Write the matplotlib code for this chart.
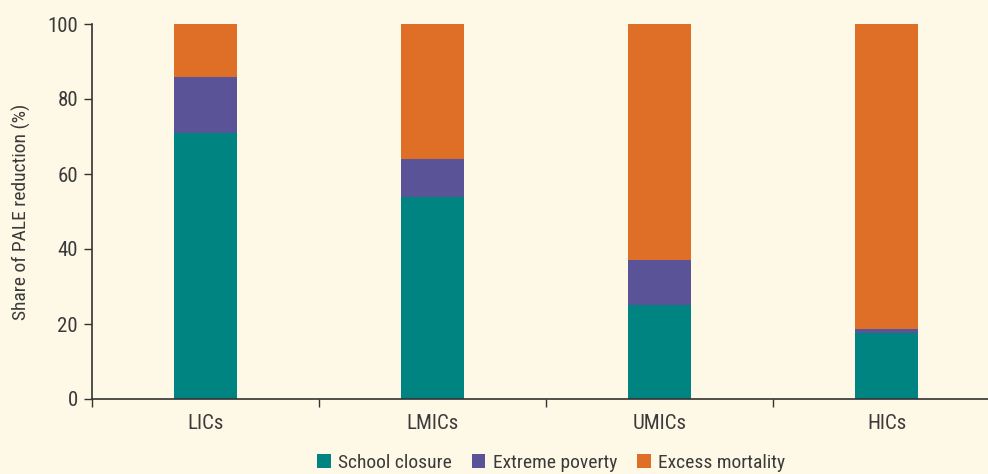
import matplotlib
matplotlib.use("Agg")
import matplotlib.pyplot as plt
from matplotlib import font_manager
import numpy as np

categories = ["LICs", "LMICs", "UMICs", "HICs"]
school_closure = [71, 54, 25, 17.6]
extreme_poverty = [15, 10, 12, 1.1]
excess_mortality = [100 - a - b for a, b in zip(school_closure, extreme_poverty)]
series_names = ["School closure", "Extreme poverty", "Excess mortality"]
colors = ["#008481", "#5a5398", "#df6e26"]
yticks = [0, 20, 40, 60, 80, 100]

names = {f.name for f in font_manager.fontManager.ttflist}
fam = "Roboto Condensed" if "Roboto Condensed" in names else "Roboto"
plt.rcParams["font.family"] = [fam, "DejaVu Sans"]

bg = "#fef8e6"
txt = "#3a3a3a"
fig = plt.figure(figsize=(9.88, 4.74), dpi=100, facecolor=bg)
ax = fig.add_axes([92/988, 75/474, 1 - 92/988, 375/474])
ax.set_facecolor(bg)

x = np.arange(len(categories))
w = 0.28
bottom = np.zeros(len(categories))
for vals, name, c in zip([school_closure, extreme_poverty, excess_mortality], series_names, colors):
    ax.bar(x, vals, w, bottom=bottom, color=c, label=name, linewidth=0)
    bottom += np.array(vals)

ax.set_xlim(-0.5, 3.447)
ax.set_ylim(0, 100)
ax.set_yticks(yticks)
ax.set_yticklabels([str(v) for v in yticks], fontsize=15, color=txt)
ax.set_xticks(x)
ax.set_xticklabels(categories, fontsize=15, color=txt)
ax.tick_params(axis="x", which="major", length=0, pad=11)
ax.set_xticks(np.arange(-0.5, 3.5, 1), minor=True)
ax.tick_params(axis="x", which="minor", length=6, direction="out", color="#333333", width=1)
ax.tick_params(axis="y", length=6, color="#333333", width=1, pad=4)
for s in ["top", "right"]:
    ax.spines[s].set_visible(False)
for s in ["left", "bottom"]:
    ax.spines[s].set_color("#333333")
    ax.spines[s].set_linewidth(1.2)
ax.set_ylabel("Share of PALE reduction (%)", fontsize=14, color=txt, labelpad=12)

leg = fig.legend(loc="center", bbox_to_anchor=(0.558, 1 - 463/474), ncol=3, frameon=False,
                 fontsize=14, handlelength=0.7, handleheight=0.7, handletextpad=0.4,
                 columnspacing=1.0, labelcolor=txt, borderaxespad=0, borderpad=0)

fig.savefig("out.png", dpi=100, facecolor=bg)
